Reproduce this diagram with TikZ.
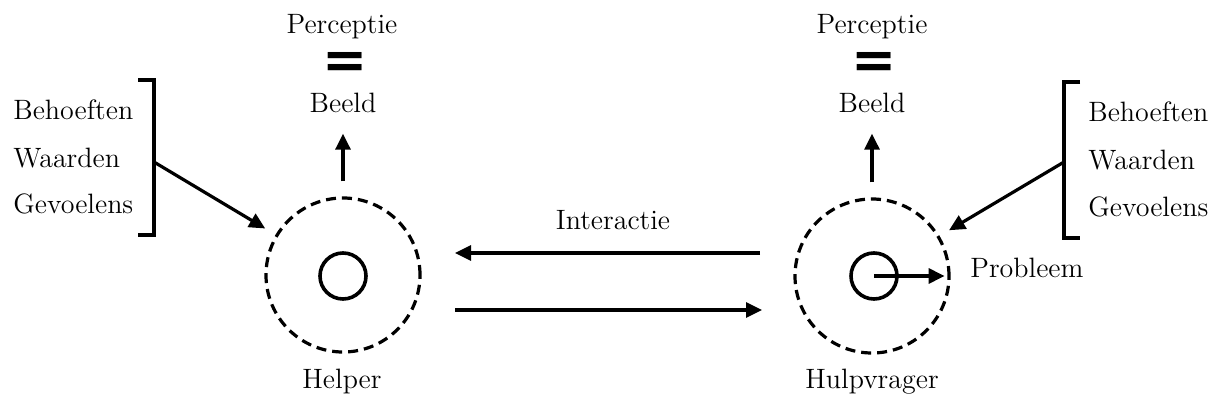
\documentclass[tikz,border=0pt]{standalone}
\usepackage{fontspec}
\newfontfamily\eqfont{DejaVu Sans}
\usetikzlibrary{arrows.meta}
\begin{document}
\begin{tikzpicture}[x=0.5pt,y=-0.5pt,
  lbl/.style={font=\fontsize{14}{16}\selectfont, inner sep=0pt},
  eqsign/.style={font=\eqfont\fontsize{27}{27}\selectfont\bfseries, inner sep=0pt},
  arr/.style={line width=1.6pt,-{Triangle[length=8pt,width=7.5pt]}},
  outerc/.style={circle,draw,dash pattern=on 5pt off 3pt,line width=1.6pt,minimum size=77pt,inner sep=0pt},
  innerc/.style={circle,draw,line width=1.8pt,minimum size=23pt,inner sep=0pt},
  brk/.style={line width=2pt}]
\useasboundingbox (0,0) rectangle (1215,406);

% circles
\node[outerc] (hc) at (343,275) {};
\node[innerc] (hci) at (343,276) {};
\node[outerc] (hr) at (872,276) {};
\node[innerc] (hri) at (874,276) {};

% texts above/below
\node[lbl,anchor=base] (percL) at (342,34) {Perceptie};
\node[eqsign] (eqL) at (345,65) {=};
\node[lbl,anchor=base] (beeldL) at (343,113) {Beeld};
\node[lbl,anchor=base] (helper) at (342,388) {Helper};

\node[lbl,anchor=base] (percR) at (872,34) {Perceptie};
\node[eqsign] (eqR) at (874,65) {=};
\node[lbl,anchor=base] (beeldR) at (872,113) {Beeld};
\node[lbl,anchor=base] (hulp) at (872,388) {Hulpvrager};

% lists
\node[lbl,anchor=base west] (bL1) at (13,120) {Behoeften};
\node[lbl,anchor=base west] (bL2) at (13,168) {Waarden};
\node[lbl,anchor=base west] (bL3) at (13,214) {Gevoelens};
\node[lbl,anchor=base west] (bR1) at (1088,122) {Behoeften};
\node[lbl,anchor=base west] (bR2) at (1088,170) {Waarden};
\node[lbl,anchor=base west] (bR3) at (1088,217) {Gevoelens};

\node[lbl,anchor=base west] (prob) at (970,278) {Probleem};
\node[lbl,anchor=base] (inter) at (613,230) {Interactie};

% brackets
\draw[brk] (138,80) -- (154,80) -- (154,235) -- (138,235);
\coordinate (bL) at (154,162);
\draw[brk] (1080,82) -- (1064,82) -- (1064,238) -- (1080,238);
\coordinate (bR) at (1064,162);

% arrows
\draw[arr,shorten >=6pt] (bL) -- (hc);
\draw[arr,shorten >=5.5pt] (bR) -- (hr);
\draw[arr] ([yshift=7.5pt]hc.north) -- ([yshift=-10pt]beeldL.south);
\draw[arr] ([yshift=7.5pt]hr.north) -- ([yshift=-10pt]beeldR.south);
\draw[arr,shorten >=3pt] (hri.center) -- (hr.east);

\coordinate (i1a) at (760,253);
\coordinate (i1b) at (455,253);
\coordinate (i2a) at (455,310);
\coordinate (i2b) at (762,310);
\draw[arr] (i1a) -- (i1b);
\draw[arr] (i2a) -- (i2b);
\end{tikzpicture}
\end{document}
